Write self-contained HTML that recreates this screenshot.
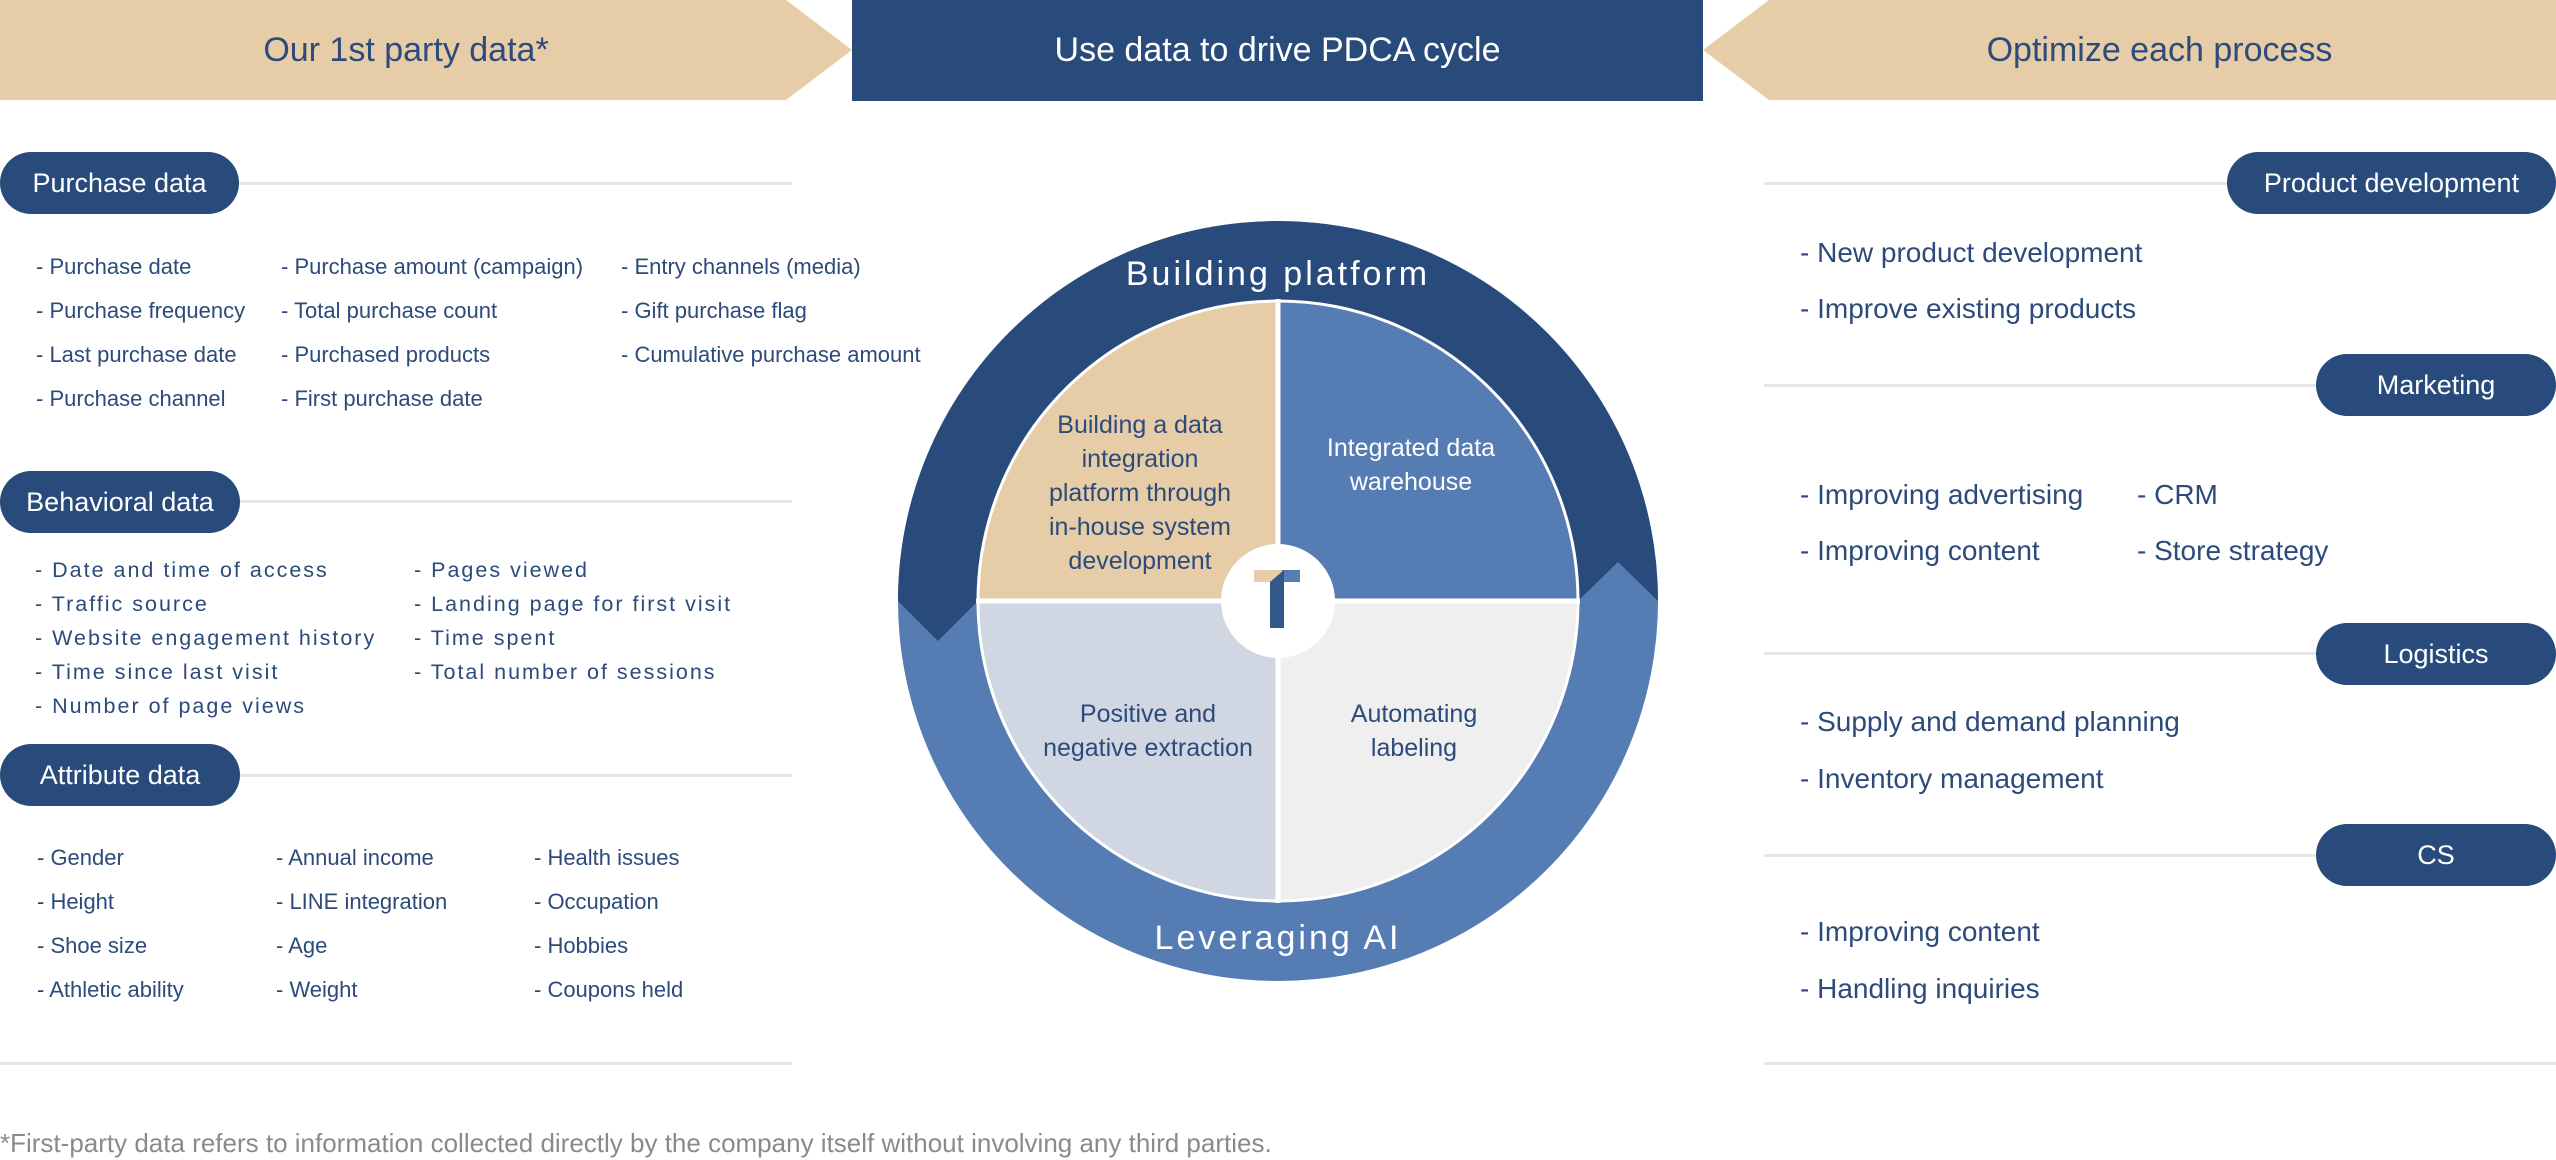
<!DOCTYPE html>
<html><head><meta charset="utf-8"><style>
*{margin:0;padding:0;box-sizing:border-box}
body{width:2556px;height:1160px;background:#fff;position:relative;overflow:hidden;font-family:"Liberation Sans",sans-serif;color:#2c4a7a}
.a{position:absolute;white-space:nowrap}
.pill{position:absolute;background:#284b7c;color:#fff;border-radius:31px;height:62px;line-height:62px;text-align:center;font-size:27px}
.ln{position:absolute;height:3px;background:#e6e6e6}
.it{position:absolute;white-space:nowrap;font-size:22px;line-height:24px;transform:translateY(-12px)}
.b{letter-spacing:2px;font-size:21.5px}
.r{font-size:28px;line-height:30px;transform:translateY(-15px)}
.hd{position:absolute;top:0;height:101px;line-height:101px;font-size:34px;text-align:center}
</style></head><body>
<svg class="a" style="left:0;top:0" width="2556" height="1160">
<polygon points="0,0 786,0 852,50 786,100 0,100" fill="#e6cda8"/>
<rect x="852" y="0" width="851" height="101" fill="#284b7c"/>
<polygon points="1703,50 1769,0 2556,0 2556,100 1769,100" fill="#e6cda8"/>
<circle cx="1278" cy="601" r="380" fill="#557cb3"/>
<path d="M898,601 A380,380 0 0 1 1658,601 L1618,562 L1578,601 A300,300 0 0 0 978,601 L938,641 Z" fill="#284b7c"/>
<path d="M1278,601 L978,601 A300,300 0 0 1 1278,301 Z" fill="#e6cda8"/>
<path d="M1278,601 L1278,301 A300,300 0 0 1 1578,601 Z" fill="#557cb3"/>
<path d="M1278,601 L1578,601 A300,300 0 0 1 1278,901 Z" fill="#efefef"/>
<path d="M1278,601 L1278,901 A300,300 0 0 1 978,601 Z" fill="#d0d7e2"/>
<circle cx="1278" cy="601" r="300" fill="none" stroke="#fff" stroke-width="3"/>
<line x1="1278" y1="299" x2="1278" y2="903" stroke="#fff" stroke-width="5"/>
<line x1="976" y1="601" x2="1580" y2="601" stroke="#fff" stroke-width="5"/>
<circle cx="1278" cy="601" r="57" fill="#fff"/>
<rect x="1254" y="570" width="30" height="12" fill="#e6cda8"/>
<rect x="1282" y="570" width="18" height="12" fill="#557cb3"/>
<polygon points="1270,582 1284,570 1284,628 1270,628" fill="#34588a"/>
<text x="1278" y="285" font-family="Liberation Sans" font-size="34" fill="#fff" text-anchor="middle" letter-spacing="3">Building platform</text>
<text x="1278" y="949" font-family="Liberation Sans" font-size="34" fill="#fff" text-anchor="middle" letter-spacing="3">Leveraging AI</text>
<g font-family="Liberation Sans" font-size="25" text-anchor="middle" fill="#2c4a7a">
<text x="1140" y="433">Building a data</text>
<text x="1140" y="467">integration</text>
<text x="1140" y="501">platform through</text>
<text x="1140" y="535">in-house system</text>
<text x="1140" y="569">development</text>
<text x="1148" y="722">Positive and</text>
<text x="1148" y="756">negative extraction</text>
<text x="1414" y="722">Automating</text>
<text x="1414" y="756">labeling</text>
<text x="1411" y="456" fill="#fff">Integrated data</text>
<text x="1411" y="490" fill="#fff">warehouse</text>
</g>
</svg>
<div class="hd" style="left:0;width:800px;color:#2c4a7a;padding-left:12px">Our 1st party data*</div>
<div class="hd" style="left:852px;width:851px;color:#fff">Use data to drive PDCA cycle</div>
<div class="hd" style="left:1769px;width:787px;color:#2c4a7a;padding-right:6px">Optimize each process</div>

<div class="ln" style="left:230px;width:562px;top:182px"></div>
<div class="ln" style="left:230px;width:562px;top:500px"></div>
<div class="ln" style="left:230px;width:562px;top:774px"></div>
<div class="ln" style="left:0;width:792px;top:1062px"></div>
<div class="pill" style="left:0;top:152px;width:239px">Purchase data</div>
<div class="pill" style="left:0;top:471px;width:240px">Behavioral data</div>
<div class="pill" style="left:0;top:744px;width:240px">Attribute data</div>

<div class="it" style="left:36px;top:267px">- Purchase date</div>
<div class="it" style="left:36px;top:311px">- Purchase frequency</div>
<div class="it" style="left:36px;top:355px">- Last purchase date</div>
<div class="it" style="left:36px;top:399px">- Purchase channel</div>
<div class="it" style="left:281px;top:267px">- Purchase amount (campaign)</div>
<div class="it" style="left:281px;top:311px">- Total purchase count</div>
<div class="it" style="left:281px;top:355px">- Purchased products</div>
<div class="it" style="left:281px;top:399px">- First purchase date</div>
<div class="it" style="left:621px;top:267px">- Entry channels (media)</div>
<div class="it" style="left:621px;top:311px">- Gift purchase flag</div>
<div class="it" style="left:621px;top:355px">- Cumulative purchase amount</div>

<div class="it b" style="left:35px;top:570px">- Date and time of access</div>
<div class="it b" style="left:35px;top:604px">- Traffic source</div>
<div class="it b" style="left:35px;top:638px">- Website engagement history</div>
<div class="it b" style="left:35px;top:672px">- Time since last visit</div>
<div class="it b" style="left:35px;top:706px">- Number of page views</div>
<div class="it b" style="left:414px;top:570px">- Pages viewed</div>
<div class="it b" style="left:414px;top:604px">- Landing page for first visit</div>
<div class="it b" style="left:414px;top:638px">- Time spent</div>
<div class="it b" style="left:414px;top:672px">- Total number of sessions</div>

<div class="it" style="left:37px;top:858px">- Gender</div>
<div class="it" style="left:37px;top:902px">- Height</div>
<div class="it" style="left:37px;top:946px">- Shoe size</div>
<div class="it" style="left:37px;top:990px">- Athletic ability</div>
<div class="it" style="left:276px;top:858px">- Annual income</div>
<div class="it" style="left:276px;top:902px">- LINE integration</div>
<div class="it" style="left:276px;top:946px">- Age</div>
<div class="it" style="left:276px;top:990px">- Weight</div>
<div class="it" style="left:534px;top:858px">- Health issues</div>
<div class="it" style="left:534px;top:902px">- Occupation</div>
<div class="it" style="left:534px;top:946px">- Hobbies</div>
<div class="it" style="left:534px;top:990px">- Coupons held</div>

<div class="a" style="left:0;top:1128px;font-size:26px;color:#8a8a8a">*First-party data refers to information collected directly by the company itself without involving any third parties.</div>

<div class="ln" style="left:1764px;width:480px;top:182px"></div>
<div class="ln" style="left:1764px;width:570px;top:384px"></div>
<div class="ln" style="left:1764px;width:570px;top:652px"></div>
<div class="ln" style="left:1764px;width:570px;top:854px"></div>
<div class="ln" style="left:1764px;width:792px;top:1062px"></div>
<div class="pill" style="left:2227px;top:152px;width:329px">Product development</div>
<div class="pill" style="left:2316px;top:354px;width:240px">Marketing</div>
<div class="pill" style="left:2316px;top:623px;width:240px">Logistics</div>
<div class="pill" style="left:2316px;top:824px;width:240px">CS</div>

<div class="it r" style="left:1800px;top:253px">- New product development</div>
<div class="it r" style="left:1800px;top:309px">- Improve existing products</div>
<div class="it r" style="left:1800px;top:495px">- Improving advertising</div>
<div class="it r" style="left:1800px;top:551px">- Improving content</div>
<div class="it r" style="left:2137px;top:495px">- CRM</div>
<div class="it r" style="left:2137px;top:551px">- Store strategy</div>
<div class="it r" style="left:1800px;top:722px">- Supply and demand planning</div>
<div class="it r" style="left:1800px;top:779px">- Inventory management</div>
<div class="it r" style="left:1800px;top:932px">- Improving content</div>
<div class="it r" style="left:1800px;top:989px">- Handling inquiries</div>
</body></html>
